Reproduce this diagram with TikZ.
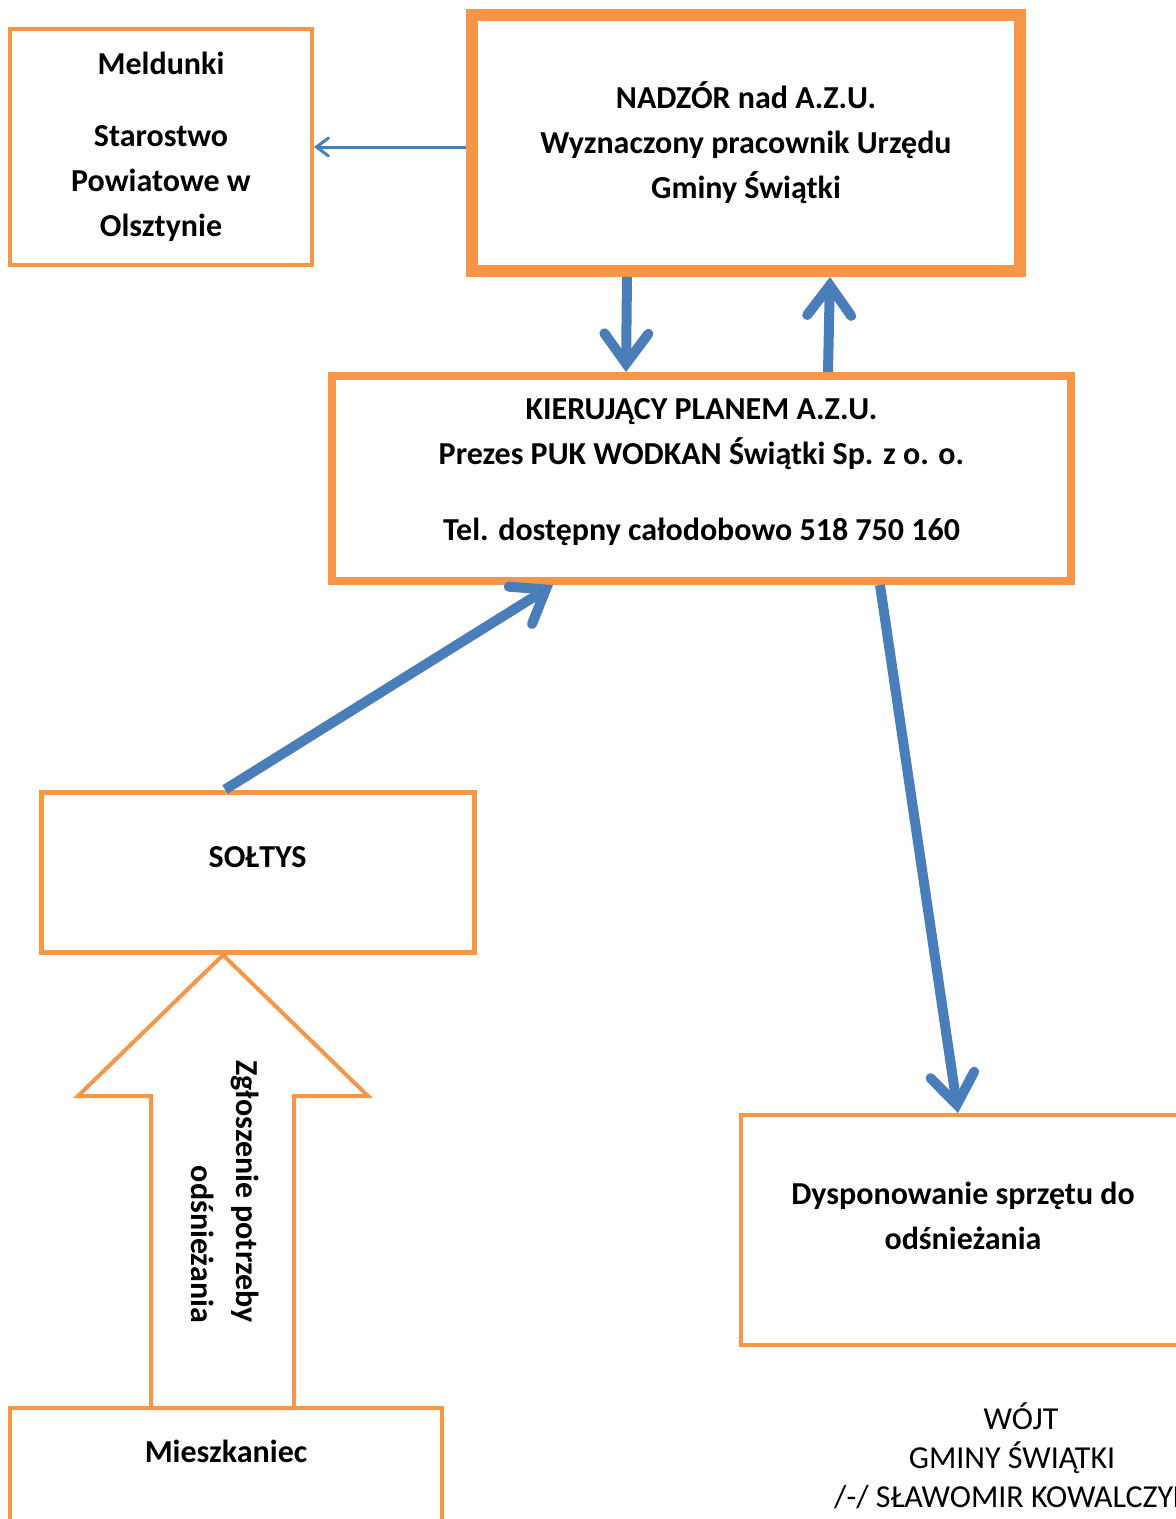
\documentclass[tikz,border=0pt]{standalone}
\usepackage{fontspec}
\setmainfont{Carlito}
\usepackage{tikz}
\usetikzlibrary{arrows.meta}
\usetikzlibrary{calc}

\definecolor{boxorange}{HTML}{F79646}
\definecolor{flowblue}{HTML}{4A7EBB}

\tikzset{
	box/.style={draw=boxorange, rectangle, inner sep=0pt},
	lbl/.style={align=center, inner sep=0pt, font=\bfseries\fontsize{32}{45}\selectfont},
	fatarrow/.style={color=flowblue, line width=10pt, -{Straight Barb[length=30pt,width=44pt,line cap=round,line join=miter]}},
	thinarrow/.style={color=flowblue, line width=3pt, -{Straight Barb[length=12pt,width=18pt,line cap=round,line join=miter]}}
}

\begin{document}
\begin{tikzpicture}[x=1pt,y=-1pt]
	\useasboundingbox (0,0) rectangle (1176,1519);

	% boxes
	\node[box, lbl, line width=4pt, minimum width=302pt, minimum height=236pt] (meld) at (161,147)
		{Meldunki\\[27pt]Starostwo\\Powiatowe w\\Olsztynie};
	\node[box, lbl, line width=12pt, minimum width=548pt, minimum height=256pt] (nadzor) at (746,143)
		{NADZÓR nad A.Z.U.\\Wyznaczony pracownik Urzędu\\Gminy Świątki};
	\node[box, line width=8pt, minimum width=739pt, minimum height=205pt] (kier) at (701.5,478.5) {};
	\node[lbl] (kier-t) at (701.5,472)
		{KIERUJĄCY PLANEM A.Z.U.\\Prezes PUK WODKAN Świątki Sp. z o. o.\\[31pt]Tel. dostępny całodobowo 518 750 160};
	\node[box, line width=5pt, minimum width=433pt, minimum height=160pt] (soltys) at (257.5,872) {};
	\node[lbl] (soltys-t) at (257.5,857) {SOŁTYS};
	\node[box, line width=4pt, minimum width=444pt, minimum height=230pt] (dysp) at (963,1230) {};
	\node[lbl] (dysp-t) at (963,1215.5) {Dysponowanie sprzętu do\\odśnieżania};
	\node[box, line width=4pt, minimum width=432pt, minimum height=152pt] (miesz) at (226,1484) {};
	\node[lbl] (miesz-t) at (226,1451) {Mieszkaniec};

	% hollow arrow
	\draw[boxorange, line width=4pt, line join=miter]
		(223,955) -- (368,1096) -- (294,1096) -- (294,1408) -- (151,1408) -- (151,1096) -- (78,1096) -- cycle;
	\node[lbl, rotate=-90, anchor=east, align=right] (report) at (225,1323)
		{Zgłoszenie potrzeby\\odśnieżania};

	% signature
	\node[align=center, inner sep=0pt, font=\fontsize{32}{39}\selectfont] (wojt) at (1012,1456)
		{\hspace*{18pt}WÓJT\\GMINY ŚWIĄTKI\\/-/ SŁAWOMIR KOWALCZYK};

	% connectors
	\path[thinarrow] (nadzor.west |- meld.east) edge (meld.east);
	\path[fatarrow]
	($(nadzor.south)+(-119,0)$) edge ($(kier.north)+(-75.5,0)$)
	($(kier.north)+(126.5,0)$) edge ($(nadzor.south)+(84,0)$)
	($(soltys.north)+(-32.5,0)$) edge ($(kier.south)+(-148.5,0)$)
	($(kier.south)+(178.5,0)$) edge ($(dysp.north)+(-5,0)$)
	;
\end{tikzpicture}
\end{document}
